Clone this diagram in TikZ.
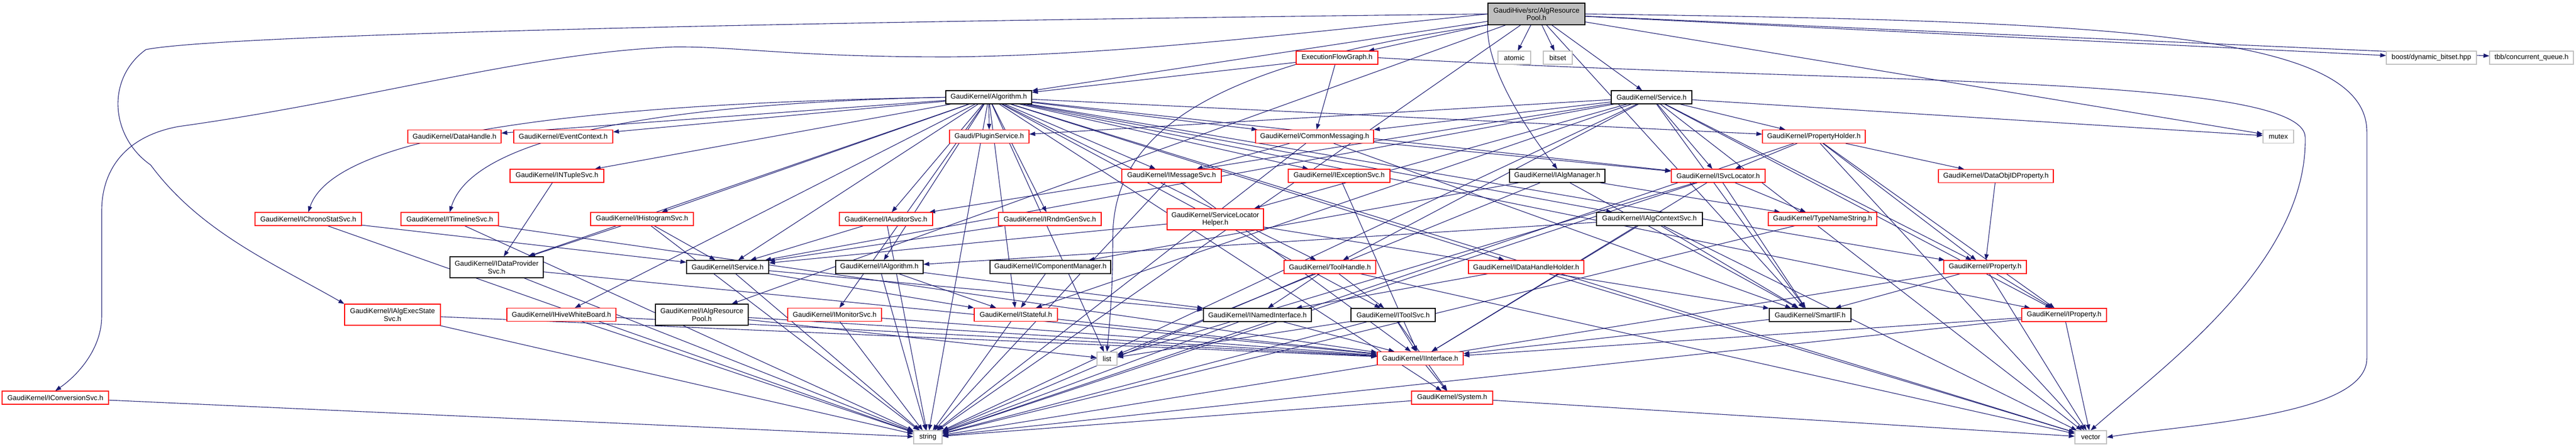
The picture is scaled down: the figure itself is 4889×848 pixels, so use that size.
\documentclass[tikz,border=0pt]{standalone}
\usepackage{fontspec}
\setmainfont{Liberation Sans}
\usetikzlibrary{arrows.meta,backgrounds}
\definecolor{eblue}{HTML}{191970}
\definecolor{redb}{HTML}{FF0000}
\definecolor{sysg}{HTML}{BFBFBF}
\newcommand\fs{\fontsize{13.3}{14.5}\selectfont}
\tikzset{
  nb/.style={draw, line width=1.2pt, inner sep=0pt, align=center, font=\fs, fill=white},
  rb/.style={nb, draw=redb},
  kb/.style={nb, draw=black},
  gb/.style={nb, draw=sysg},
  e/.style={draw=eblue, line width=1.1pt, -{Triangle[length=11pt,width=8pt]}},
}
\begin{document}
\begin{tikzpicture}[x=1pt,y=-1pt]
\useasboundingbox (0,0) rectangle (4889,848);
% ---------- nodes ----------
\node[kb, fill=sysg, minimum width=184, minimum height=41] (T) at (2916,26.5) {GaudiHive/src/AlgResource\\Pool.h};
\node[rb, minimum width=155, minimum height=25] (EFG) at (2537.5,109.5) {ExecutionFlowGraph.h};
\node[gb, minimum width=62, minimum height=25] (atomic) at (2874,109.5) {atomic};
\node[gb, minimum width=55, minimum height=25] (bitset) at (2956.5,109.5) {bitset};
\node[gb, minimum width=171, minimum height=25] (boost) at (4614.5,109.5) {boost/dynamic\_bitset.hpp};
\node[gb, minimum width=159, minimum height=25] (tbb) at (4804.5,109.5) {tbb/concurrent\_queue.h};
\node[kb, minimum width=163, minimum height=25] (A) at (1876.5,184.5) {GaudiKernel/Algorithm.h};
\node[kb, minimum width=153, minimum height=25] (S) at (3134.5,184.5) {GaudiKernel/Service.h};
\node[rb, minimum width=177, minimum height=25] (DH) at (862.5,259) {GaudiKernel/DataHandle.h};
\node[rb, minimum width=188, minimum height=25] (EC) at (1069,259) {GaudiKernel/EventContext.h};
\node[rb, minimum width=151, minimum height=25] (PS) at (1877.5,259) {Gaudi/PluginService.h};
\node[rb, minimum width=224, minimum height=25] (CM) at (2495,259) {GaudiKernel/CommonMessaging.h};
\node[rb, minimum width=195, minimum height=25] (PH) at (3442.5,259) {GaudiKernel/PropertyHolder.h};
\node[gb, minimum width=58, minimum height=25] (mutex) at (4324,259) {mutex};
\node[rb, minimum width=178, minimum height=25] (NT) at (1057,333.5) {GaudiKernel/INTupleSvc.h};
\node[rb, minimum width=189, minimum height=25] (MS) at (2223.5,333.5) {GaudiKernel/IMessageSvc.h};
\node[rb, minimum width=193, minimum height=25] (ES) at (2541.5,333.5) {GaudiKernel/IExceptionSvc.h};
\node[kb, minimum width=181, minimum height=25] (AM) at (2955.5,333.5) {GaudiKernel/IAlgManager.h};
\node[rb, minimum width=178, minimum height=25] (SL) at (3261,333.5) {GaudiKernel/ISvcLocator.h};
\node[rb, minimum width=218, minimum height=25] (DOP) at (3788,334) {GaudiKernel/DataObjIDProperty.h};
\node[rb, minimum width=202, minimum height=25] (CS) at (585,415.5) {GaudiKernel/IChronoStatSvc.h};
\node[rb, minimum width=185, minimum height=25] (TL) at (853.5,415.5) {GaudiKernel/ITimelineSvc.h};
\node[rb, minimum width=195, minimum height=25] (HS) at (1218.5,415.5) {GaudiKernel/IHistogramSvc.h};
\node[rb, minimum width=177, minimum height=25] (AU) at (1681.5,415.5) {GaudiKernel/IAuditorSvc.h};
\node[rb, minimum width=195, minimum height=25] (RG) at (1992.5,415.5) {GaudiKernel/IRndmGenSvc.h};
\node[rb, minimum width=183, minimum height=40] (SLH) at (2306.5,416) {GaudiKernel/ServiceLocator\\Helper.h};
\node[kb, minimum width=201, minimum height=25] (AC) at (3130.5,415.5) {GaudiKernel/IAlgContextSvc.h};
\node[rb, minimum width=206, minimum height=25] (TNS) at (3459,415.5) {GaudiKernel/TypeNameString.h};
\node[kb, minimum width=177, minimum height=40] (DP) at (942.5,507) {GaudiKernel/IDataProvider\\Svc.h};
\node[kb, minimum width=156, minimum height=25] (IS) at (1381,506.5) {GaudiKernel/IService.h};
\node[kb, minimum width=166, minimum height=25] (IA) at (1669,506.5) {GaudiKernel/IAlgorithm.h};
\node[kb, minimum width=229, minimum height=25] (CMgr) at (1993.5,506.5) {GaudiKernel/IComponentManager.h};
\node[rb, minimum width=174, minimum height=25] (TH) at (2524,506.5) {GaudiKernel/ToolHandle.h};
\node[rb, minimum width=219, minimum height=25] (DHH) at (2896.5,506.5) {GaudiKernel/IDataHandleHolder.h};
\node[rb, minimum width=157, minimum height=25] (P) at (3767.5,506.5) {GaudiKernel/Property.h};
\node[rb, minimum width=182, minimum height=40] (AES) at (745,597) {GaudiKernel/IAlgExecState\\Svc.h};
\node[rb, minimum width=207, minimum height=25] (HWB) at (1065.5,597) {GaudiKernel/IHiveWhiteBoard.h};
\node[kb, minimum width=176, minimum height=40] (ARP) at (1332,597) {GaudiKernel/IAlgResource\\Pool.h};
\node[rb, minimum width=178, minimum height=25] (MON) at (1584,597) {GaudiKernel/IMonitorSvc.h};
\node[rb, minimum width=158, minimum height=25] (ST) at (1928,597) {GaudiKernel/IStateful.h};
\node[kb, minimum width=205, minimum height=25] (NI) at (2386.5,597.5) {GaudiKernel/INamedInterface.h};
\node[kb, minimum width=160, minimum height=25] (TS) at (2644,597.5) {GaudiKernel/IToolSvc.h};
\node[kb, minimum width=155, minimum height=25] (SIF) at (3435.5,597.5) {GaudiKernel/SmartIF.h};
\node[rb, minimum width=161, minimum height=25] (IP) at (3917.5,597.5) {GaudiKernel/IProperty.h};
\node[gb, minimum width=38, minimum height=25] (nlist) at (2101,680.5) {list};
\node[rb, minimum width=163, minimum height=25] (II) at (2695.5,680) {GaudiKernel/IInterface.h};
\node[rb, minimum width=202, minimum height=25] (CV) at (105,754.5) {GaudiKernel/IConversionSvc.h};
\node[rb, minimum width=154, minimum height=25] (SYS) at (2756,754.5) {GaudiKernel/System.h};
\node[gb, minimum width=54, minimum height=25] (nstring) at (1761,829.5) {string};
\node[gb, minimum width=60, minimum height=25] (nvector) at (3968,829.5) {vector};
% ---------- edges (behind nodes) ----------
\begin{pgfonlayer}{background}
% top node
\foreach \t in {EFG,atomic,bitset,S,A,SIF,mutex,boost,tbb,nstring,ARP} \draw[e] (T) -- (\t);
\draw[e] (T.south west) .. controls (2820,130) and (2900,250) .. (AM.north);
\draw[e] (T.east) .. controls (4000,40) and (4492,60) .. (4492,250) -- (4492,680) .. controls (4492,790) and (4150,805) .. (nvector.east);
\draw[e] (T.south west) .. controls (2300,120) and (2112,250) .. (2112,450) .. controls (2112,560) and (2105,620) .. (nlist.north);
\draw[e] (T.west) .. controls (1200,45) and (400,70) .. (277,94) .. controls (200,150) and (210,260) .. (286,313) .. controls (380,440) and (520,500) .. (AES.north west);
\draw[e] (T.west) .. controls (2400,70) and (2100,105) .. (1800,108) .. controls (1500,108) and (1400,88) .. (1280,89) .. controls (1000,100) and (700,190) .. (339,240) .. controls (230,260) and (193,330) .. (193,400) -- (193,600) .. controls (193,660) and (150,710) .. (CV.north);
% Algorithm
\foreach \t in {DH,EC,PS,CM,PH,NT,MS,ES,SL,HS,AU,RG,AC,DP,IS,IA,TH,DHH,P,HWB,MON,ST,TS,IP,SYS,nlist,nstring,nvector} \draw[e] (A) -- (\t);
\draw[e] (A.west) .. controls (1200,195) and (640,240) .. (CS.north);
\draw[e] (A.west) .. controls (1300,195) and (900,250) .. (TL.north);
% Service
\foreach \t in {CM,PH,PS,AU,SLH,SL,IS,SIF,P,IP,ST,TH,mutex,nvector,nstring} \draw[e] (S) -- (\t);
% ExecutionFlowGraph
\draw[e] (EFG) -- (A);
\draw[e] (EFG) -- (CM);
\draw[e] (EFG.east) .. controls (3500,160) and (4370,140) .. (4375,260) .. controls (4380,500) and (4100,700) .. (nvector.north);
% others
\foreach \t in {MS,SL,SIF,nstring} \draw[e] (CM) -- (\t);
\foreach \t in {SL,DOP,P,IP,nstring,nvector} \draw[e] (PH) -- (\t);
\draw[e] (DOP) -- (P);
\draw[e] (NT) -- (DP);
\foreach \t in {II,nstring} \draw[e] (MS) -- (\t);
\draw[e] (ES) -- (II);
\foreach \t in {CMgr,TNS,SIF,nlist} \draw[e] (AM) -- (\t);
\foreach \t in {TNS,II,SIF,nlist,nstring} \draw[e] (SL) -- (\t);
\foreach \t in {IS,nstring} \draw[e] (CS) -- (\t);
\foreach \t in {II,nstring} \draw[e] (TL) -- (\t);
\foreach \t in {DP,IS,nstring} \draw[e] (HS) -- (\t);
\foreach \t in {IS,nstring} \draw[e] (AU) -- (\t);
\draw[e] (RG) -- (IS);
\foreach \t in {IS,SIF} \draw[e] (SLH) -- (\t);
\foreach \t in {II,SIF,nvector,IA} \draw[e] (AC) -- (\t);
\draw[e] (TNS) -- (nstring);
\foreach \t in {II,nstring} \draw[e] (DP) -- (\t);
\foreach \t in {NI,ST,nstring} \draw[e] (IS) -- (\t);
\foreach \t in {NI,ST,nstring} \draw[e] (IA) -- (\t);
\draw[e] (CMgr) -- (ST);
\foreach \t in {NI,TS,nstring,nvector} \draw[e] (TH) -- (\t);
\foreach \t in {NI,nvector} \draw[e] (DHH) -- (\t);
\foreach \t in {IP,SIF,nstring,nvector} \draw[e] (P) -- (\t);
\foreach \t in {II,nstring} \draw[e] (AES) -- (\t);
\foreach \t in {II,nstring} \draw[e] (HWB) -- (\t);
\foreach \t in {II,nlist} \draw[e] (ARP) -- (\t);
\foreach \t in {II,nstring} \draw[e] (MON) -- (\t);
\foreach \t in {II,nstring} \draw[e] (ST) -- (\t);
\foreach \t in {II,nstring} \draw[e] (NI) -- (\t);
\foreach \t in {nlist,II,SYS,nstring} \draw[e] (TS) -- (\t);
\draw[e] (SIF) -- (II);
\foreach \t in {II,nstring,nvector} \draw[e] (IP) -- (\t);
\draw[e] (II) -- (SYS);
\draw[e] (CV) -- (nstring);
\foreach \t in {nstring,nvector} \draw[e] (SYS) -- (\t);
\end{pgfonlayer}
\end{tikzpicture}
\end{document}
